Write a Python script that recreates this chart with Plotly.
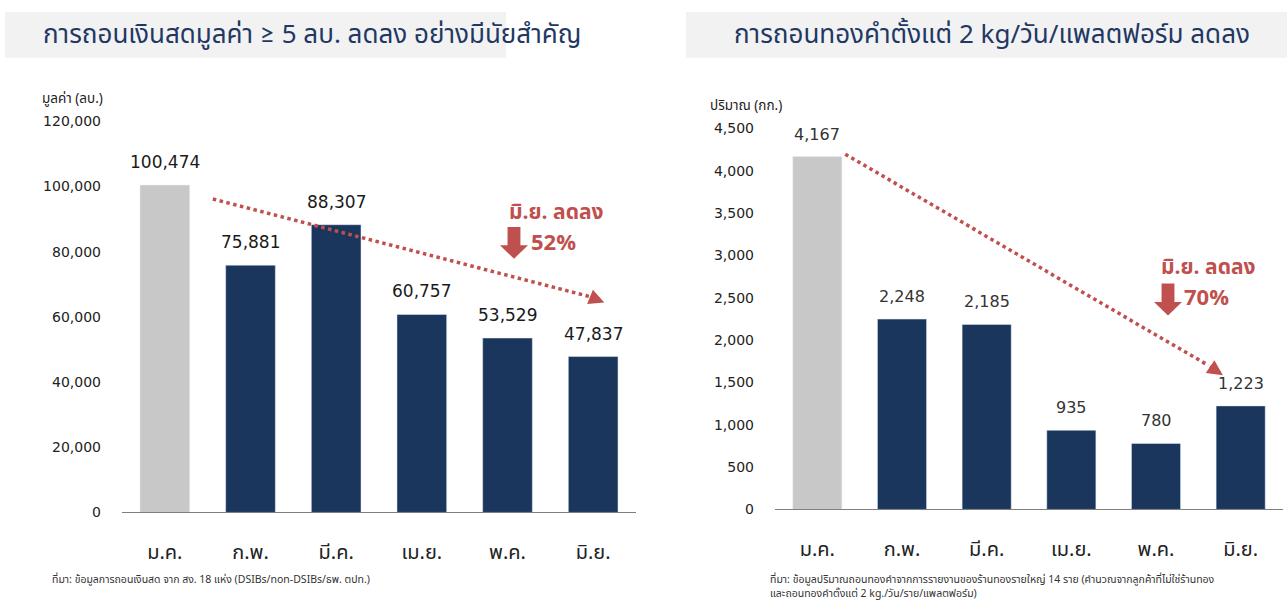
import plotly.graph_objects as go

W, H = 1287, 605

months = ["ม.ค.", "ก.พ.", "มี.ค.", "เม.ย.", "พ.ค.", "มิ.ย."]
cash_values = [100474, 75881, 88307, 60757, 53529, 47837]
gold_values = [4167, 2248, 2185, 935, 780, 1223]
cash_ticks = [0, 20000, 40000, 60000, 80000, 100000, 120000]
gold_ticks = [0, 500, 1000, 1500, 2000, 2500, 3000, 3500, 4000, 4500]

title_left = "การถอนเงินสดมูลค่า ≥ 5 ลบ. ลดลง อย่างมีนัยสำคัญ"
title_right = "การถอนทองคำตั้งแต่ 2 kg/วัน/แพลตฟอร์ม ลดลง"
ytitle_left = "มูลค่า (ลบ.)"
ytitle_right = "ปริมาณ (กก.)"
note_left = "ที่มา: ข้อมูลการถอนเงินสด จาก สง. 18 แห่ง (DSIBs/non-DSIBs/ธพ. ตปท.)"
note_right_1 = "ที่มา: ข้อมูลปริมาณถอนทองคำจากการรายงานของร้านทองรายใหญ่ 14 ราย (คำนวณจากลูกค้าที่ไม่ใช่ร้านทอง"
note_right_2 = "และถอนทองคำตั้งแต่ 2 kg./วัน/ราย/แพลตฟอร์ม)"
drop_label = "มิ.ย. ลดลง"
drop_left = "52%"
drop_right = "70%"

NAVY = "#1b365d"
GRAY = "#c8c8c8"
RED = "#c0504d"
TITLE_C = "#1f3864"
FONT = "Noto Sans Thai, Noto Sans, Lato, sans-serif"
NUMFONT = "DejaVu Sans, Noto Sans, sans-serif"

# page-pixel helpers (vertical mapping compensates the viewer's vertical fit)
SY, CY = 592.0, 6.0

def px(x):
    return x / W

def py(y):
    return 1 - (y - CY) / SY

colors = [GRAY] + [NAVY] * 5

fig = go.Figure()
fig.add_trace(go.Bar(x=months, y=cash_values, marker_color=colors, xaxis="x", yaxis="y",
                     hoverinfo="skip", showlegend=False))
fig.add_trace(go.Bar(x=months, y=gold_values, marker_color=colors, xaxis="x2", yaxis="y2",
                     hoverinfo="skip", showlegend=False))

axis_common = dict(showgrid=False, zeroline=False, fixedrange=True)

annotations = []
shapes = []

def text_at(x, y, text, size, color, xanchor="center", bold=False, family=FONT):
    annotations.append(dict(x=px(x), y=py(y), xref="paper", yref="paper",
                            text=f"<b>{text}</b>" if bold else text, showarrow=False,
                            xanchor=xanchor, yanchor="middle",
                            font=dict(size=size, color=color, family=family)))

# value labels
for m, v in zip(months, cash_values):
    annotations.append(dict(x=m, y=v, xref="x", yref="y", text=f"{v:,}", showarrow=False,
                            xanchor="center", yanchor="bottom", yshift=11,
                            font=dict(size=17, color="#1a1a1a", family=NUMFONT)))
for m, v in zip(months, gold_values):
    annotations.append(dict(x=m, y=v, xref="x2", yref="y2", text=f"{v:,}", showarrow=False,
                            xanchor="center", yanchor="bottom", yshift=11,
                            font=dict(size=16, color="#333333", family=NUMFONT)))

# title boxes
shapes.append(dict(type="rect", xref="paper", yref="paper", x0=px(5), x1=px(506), y0=py(56), y1=py(10),
                   fillcolor="#f2f2f2", line_width=0, layer="below"))
shapes.append(dict(type="rect", xref="paper", yref="paper", x0=px(686), x1=px(1287), y0=py(56), y1=py(10),
                   fillcolor="#f2f2f2", line_width=0, layer="below"))
text_at(312, 33, title_left, 26, TITLE_C)
text_at(992, 33, title_right, 26, TITLE_C)

# axis titles
text_at(40, 97, ytitle_left, 13.5, "#222222", "left")
text_at(708, 104, ytitle_right, 13.5, "#222222", "left")

# source notes
text_at(50, 581, note_left, 10.5, "#333333", "left")
text_at(768, 581, note_right_1, 10.5, "#333333", "left")
text_at(768, 595, note_right_2, 10.5, "#333333", "left")

# dotted trend arrows
def trend(xr, yr, x0, y0, x1, y1, tx, ty):
    shapes.append(dict(type="line", xref=xr, yref=yr, x0=x0, y0=y0, x1=tx, y1=ty,
                       line=dict(color=RED, width=3.5, dash="dot")))
    annotations.append(dict(x=x1, y=y1, xref=xr, yref=yr, ax=tx, ay=ty, axref=xr, ayref=yr,
                            text="", showarrow=True, arrowhead=2, arrowsize=1.1, arrowwidth=2.8,
                            arrowcolor=RED))

trend("x", "y", 0.56, 96200, 5.13, 64400, 4.95, 66300)
trend("x2", "y2", 0.33, 4195, 4.79, 1586, 4.62, 1700)

def block_arrow(x0, x1, top, bottom):
    w = x1 - x0
    s0 = x0 + w * 0.27
    s1 = x1 - w * 0.27
    mid = top + (bottom - top) * 0.58
    cx = (x0 + x1) / 2
    pts = [(s0, top), (s1, top), (s1, mid), (x1, mid), (cx, bottom), (x0, mid), (s0, mid)]
    path = "M " + " L ".join(f"{px(a):.5f},{py(b):.5f}" for a, b in pts) + " Z"
    shapes.append(dict(type="path", xref="paper", yref="paper", path=path, fillcolor=RED, line_width=0))

text_at(556, 212, drop_label, 21, RED, bold=True)
text_at(529, 243, drop_left, 22, RED, "left", bold=True)
block_arrow(500, 528, 226, 258)
text_at(1208, 267, drop_label, 21, RED, bold=True)
text_at(1182, 298, drop_right, 22, RED, "left", bold=True)
block_arrow(1154, 1182, 283, 315)

fig.update_layout(
    width=W, height=H,
    margin=dict(l=0, r=0, t=0, b=0),
    paper_bgcolor="white", plot_bgcolor="white",
    bargap=0.42,
    font=dict(family=FONT, color="#222222"),
    xaxis=dict(domain=[px(122), px(636)], anchor="y", showline=True, linecolor="#7f7f7f", linewidth=1,
               ticks="", tickfont=dict(size=20, color="#222222"), ticklabelstandoff=22, **axis_common),
    yaxis=dict(domain=[py(513), py(120)], anchor="x", range=[0, 120000], tickvals=cash_ticks,
               tickformat=",", showline=False, ticks="", tickfont=dict(size=14, color="#222222", family=NUMFONT),
               ticklabelstandoff=20, **axis_common),
    xaxis2=dict(domain=[px(775), px(1283)], anchor="y2", showline=True, linecolor="#7f7f7f", linewidth=1,
                ticks="", tickfont=dict(size=20, color="#222222"), ticklabelstandoff=22, **axis_common),
    yaxis2=dict(domain=[py(510), py(127)], anchor="x2", range=[0, 4500], tickvals=gold_ticks,
                tickformat=",", showline=False, ticks="", tickfont=dict(size=14, color="#222222", family=NUMFONT),
                ticklabelstandoff=20, **axis_common),
    annotations=annotations,
    shapes=shapes,
)

fig.write_html("out.html", config={"displayModeBar": False},
               post_script="document.body.style.margin='0';document.body.style.overflow='hidden';")
